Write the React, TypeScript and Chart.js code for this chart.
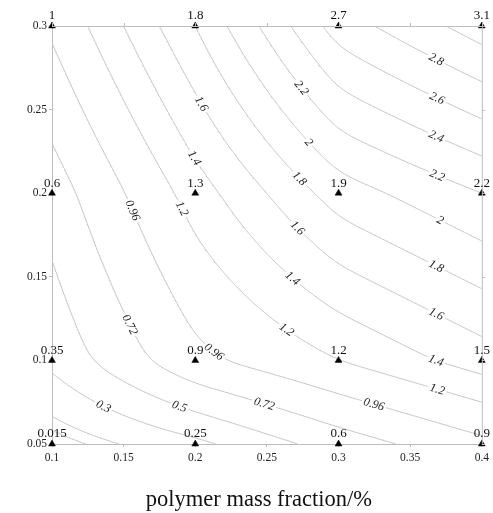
import React, { useEffect, useRef } from "react";
import { Chart, registerables } from "chart.js";

Chart.register(...registerables);

// ---------- data ----------
const xValues = [0.1, 0.2, 0.3, 0.4];
const yValues = [0.05, 0.1, 0.2, 0.3];
const zAtY005 = [0.015, 0.25, 0.6, 0.9];
const zAtY010 = [0.35, 0.9, 1.2, 1.5];
const zAtY020 = [0.6, 1.3, 1.9, 2.2];
const zAtY030 = [1, 1.8, 2.7, 3.1];
const contourLevels = [0.07, 0.125, 0.3, 0.5, 0.72, 0.96, 1.2, 1.4, 1.6, 1.8, 2, 2.2, 2.4, 2.6, 2.8, 3];
const xTicks = [0.1, 0.15, 0.2, 0.25, 0.3, 0.35, 0.4];
const yTicks = [0.05, 0.1, 0.15, 0.2, 0.25, 0.3];
const xTitle = "polymer mass fraction/%";

// ---------- layout (label anchors: level, x where the label sits) ----------
const labelAnchors: [number, number][] = [
  [0.3, 0.1355], [0.5, 0.189],
  [0.72, 0.1543], [0.72, 0.248],
  [0.96, 0.1564], [0.96, 0.2134], [0.96, 0.3248],
  [1.2, 0.191], [1.2, 0.2642], [1.2, 0.3686],
  [1.4, 0.1995], [1.4, 0.2677], [1.4, 0.3686],
  [1.6, 0.2044], [1.6, 0.2712], [1.6, 0.3686],
  [1.8, 0.2726], [1.8, 0.3686],
  [2, 0.2795], [2, 0.3714],
  [2.2, 0.274], [2.2, 0.3686],
  [2.4, 0.3686], [2.6, 0.3686], [2.8, 0.3686],
];

const SERIF = '"Liberation Serif", "Times New Roman", serif';
const LINE_GRAY = "#c4c4c4";
const AXIS_GRAY = "#bdbdbd";

type P = { x: number; y: number };

function seg(arr: number[], v: number) {
  let k = 0;
  while (k < arr.length - 2 && v > arr[k + 1]) k++;
  return { k, t: (v - arr[k]) / (arr[k + 1] - arr[k]) };
}

function buildSurface() {
  const rows = [zAtY005, zAtY010, zAtY020, zAtY030];
  return (x: number, y: number) => {
    const { k: i, t: tx } = seg(xValues, x);
    const { k: j, t: ty } = seg(yValues, y);
    const b = rows[j][i] + (rows[j][i + 1] - rows[j][i]) * tx;
    const t = rows[j + 1][i] + (rows[j + 1][i + 1] - rows[j + 1][i]) * tx;
    return b + (t - b) * ty;
  };
}

function contourChains(level: number, gx: number[], gy: number[], vals: number[][]): P[][] {
  const N = gx.length - 1;
  const Ny = gy.length - 1;
  const pts = new Map<string, P>();
  const adj = new Map<string, string[]>();
  const link = (a: string, b: string) => {
    if (!adj.has(a)) adj.set(a, []);
    if (!adj.has(b)) adj.set(b, []);
    adj.get(a)!.push(b);
    adj.get(b)!.push(a);
  };
  for (let j = 0; j < Ny; j++) {
    for (let i = 0; i < N; i++) {
      const corners = [[i, j], [i + 1, j], [i + 1, j + 1], [i, j + 1]];
      const c = corners.map(([ci, cj]) => vals[cj][ci]);
      const edges: string[] = [];
      for (let e = 0; e < 4; e++) {
        const a = e, b = (e + 1) % 4;
        const va = c[a], vb = c[b];
        if ((va >= level) !== (vb >= level)) {
          const [ia, ja] = corners[a];
          const [ib, jb] = corners[b];
          const key = ja === jb ? `h${Math.min(ia, ib)}_${ja}` : `v${ia}_${Math.min(ja, jb)}`;
          const t = (level - va) / (vb - va);
          pts.set(key, {
            x: gx[ia] + (gx[ib] - gx[ia]) * t,
            y: gy[ja] + (gy[jb] - gy[ja]) * t,
          });
          edges.push(key);
        }
      }
      if (edges.length === 2) link(edges[0], edges[1]);
      else if (edges.length === 4) {
        const center = (c[0] + c[1] + c[2] + c[3]) / 4;
        if ((center >= level) === (c[0] >= level)) {
          link(edges[0], edges[1]);
          link(edges[2], edges[3]);
        } else {
          link(edges[3], edges[0]);
          link(edges[1], edges[2]);
        }
      }
    }
  }
  const used = new Set<string>();
  const keys = [...adj.keys()];
  const starts = keys.filter((k) => adj.get(k)!.length === 1).concat(keys);
  const chains: P[][] = [];
  for (const s of starts) {
    if (used.has(s)) continue;
    const chain = [s];
    used.add(s);
    let cur = s;
    for (;;) {
      const nb = adj.get(cur)!.find((n) => !used.has(n));
      if (!nb) break;
      chain.push(nb);
      used.add(nb);
      cur = nb;
    }
    if (chain.length > 2 && adj.get(cur)!.includes(s)) chain.push(s);
    chains.push(chain.map((k) => pts.get(k)!));
  }
  return chains;
}

// resample a contour by arc length (in pixel-like units) and smooth it with a
// shrinking-window moving average so the ends stay fixed
function smoothChain(ch: P[], sx: number, sy: number, step: number, radius: number, passes: number): P[] {
  if (ch.length < 3) return ch;
  const q = ch.map((p) => ({ x: p.x * sx, y: p.y * sy }));
  const cum = [0];
  for (let i = 1; i < q.length; i++) cum.push(cum[i - 1] + Math.hypot(q[i].x - q[i - 1].x, q[i].y - q[i - 1].y));
  const total = cum[cum.length - 1];
  if (total < step * 3) return ch;
  const n = Math.max(3, Math.round(total / step) + 1);
  let r: { x: number; y: number }[] = [];
  let s = 0;
  for (let k = 0; k < n; k++) {
    const d = (total * k) / (n - 1);
    while (s < q.length - 2 && cum[s + 1] < d) s++;
    const span = cum[s + 1] - cum[s] || 1;
    const t = Math.min(1, Math.max(0, (d - cum[s]) / span));
    r.push({ x: q[s].x + (q[s + 1].x - q[s].x) * t, y: q[s].y + (q[s + 1].y - q[s].y) * t });
  }
  const w = Math.max(1, Math.round(radius / ((total / (n - 1)) || 1)));
  for (let pass = 0; pass < passes; pass++) {
    const out: { x: number; y: number }[] = [];
    for (let k = 0; k < r.length; k++) {
      const h = Math.min(w, k, r.length - 1 - k);
      let ax = 0, ay = 0;
      for (let m = k - h; m <= k + h; m++) {
        ax += r[m].x;
        ay += r[m].y;
      }
      out.push({ x: ax / (2 * h + 1), y: ay / (2 * h + 1) });
    }
    r = out;
  }
  return r.map((p) => ({ x: p.x / sx, y: p.y / sy }));
}

export default function App() {
  const ref = useRef<HTMLCanvasElement>(null);

  useEffect(() => {
    const canvas = ref.current!;
    const f = buildSurface();
    const N = 150;
    const x0 = xValues[0], x1 = xValues[xValues.length - 1];
    const y0 = yValues[0], y1 = yValues[yValues.length - 1];
    const gx = Array.from({ length: N + 1 }, (_, i) => x0 + ((x1 - x0) * i) / N);
    const gy = Array.from({ length: N + 1 }, (_, j) => y0 + ((y1 - y0) * j) / N);
    const vals = gy.map((y) => gx.map((x) => f(x, y)));
    // approximate pixel aspect of the plot (431 px over the x range, 418 px over the y range)
    const sx = 431 / (x1 - x0);
    const sy = 418 / (y1 - y0);

    const levelChains = new Map<number, P[][]>();
    const contourDatasets: any[] = [];
    for (const L of contourLevels) {
      const chains = contourChains(L, gx, gy, vals).map((ch) => smoothChain(ch, sx, sy, 1.5, 12, 3));
      levelChains.set(L, chains);
      for (const ch of chains) {
        contourDatasets.push({
          data: ch,
          showLine: true,
          borderColor: LINE_GRAY,
          borderWidth: 1,
          pointRadius: 0,
          fill: false,
          tension: 0,
          order: 1,
        });
      }
    }

    const rows = [zAtY005, zAtY010, zAtY020, zAtY030];
    const samplePoints: (P & { v: number })[] = [];
    rows.forEach((r, j) => r.forEach((v, i) => samplePoints.push({ x: xValues[i], y: yValues[j], v })));

    const overlay = {
      id: "overlay",
      beforeDatasetDraw(chart: any, args: any) {
        if (args.index !== 0) return;
        const ctx = chart.ctx as CanvasRenderingContext2D;
        const xs = chart.scales.x, ys = chart.scales.y;
        ctx.save();
        ctx.font = `italic 12px ${SERIF}`;
        ctx.textAlign = "center";
        ctx.textBaseline = "middle";
        for (const [L, xa] of labelAnchors) {
          const chains = levelChains.get(L) || [];
          let best: { ch: P[]; k: number; d: number } | null = null;
          for (const ch of chains) {
            for (let k = 0; k < ch.length; k++) {
              const d = Math.abs(ch[k].x - xa);
              if (!best || d < best.d) best = { ch, k, d };
            }
          }
          if (!best) continue;
          const { ch, k } = best;
          const pa = ch[Math.max(0, k - 4)], pb = ch[Math.min(ch.length - 1, k + 4)];
          const ax = xs.getPixelForValue(pa.x), ay = ys.getPixelForValue(pa.y);
          const bx = xs.getPixelForValue(pb.x), by = ys.getPixelForValue(pb.y);
          let ang = Math.atan2(by - ay, bx - ax);
          if (ang > Math.PI / 2) ang -= Math.PI;
          if (ang < -Math.PI / 2) ang += Math.PI;
          const px = xs.getPixelForValue(ch[k].x), py = ys.getPixelForValue(ch[k].y);
          const text = String(L);
          const w = ctx.measureText(text).width;
          ctx.save();
          ctx.translate(px, py);
          ctx.rotate(ang);
          ctx.fillStyle = "#ffffff";
          ctx.fillRect(-w / 2 - 2, -5, w + 4, 10);
          ctx.fillStyle = "#222222";
          ctx.fillText(text, 0, 0.5);
          ctx.restore();
        }
        ctx.restore();
      },
      afterDatasetsDraw(chart: any) {
        const ctx = chart.ctx as CanvasRenderingContext2D;
        const xs = chart.scales.x, ys = chart.scales.y;
        const area = chart.chartArea;
        ctx.save();
        ctx.strokeStyle = AXIS_GRAY;
        ctx.lineWidth = 1;
        ctx.beginPath();
        ctx.moveTo(area.left, area.top + 0.5);
        ctx.lineTo(area.right, area.top + 0.5);
        ctx.moveTo(area.right + 0.5, area.top);
        ctx.lineTo(area.right + 0.5, area.bottom);
        for (const t of xTicks) {
          const px = Math.round(xs.getPixelForValue(t)) + 0.5;
          ctx.moveTo(px, area.top);
          ctx.lineTo(px, area.top - 3);
        }
        for (const t of yTicks) {
          const py = Math.round(ys.getPixelForValue(t)) + 0.5;
          ctx.moveTo(area.right, py);
          ctx.lineTo(area.right + 3, py);
        }
        ctx.stroke();
        ctx.font = `13px ${SERIF}`;
        ctx.textAlign = "center";
        ctx.textBaseline = "middle";
        ctx.fillStyle = "#111111";
        for (const p of samplePoints) {
          const px = xs.getPixelForValue(p.x), py = ys.getPixelForValue(p.y);
          ctx.fillText(String(p.v), px, py - 10);
        }
        ctx.font = `22.5px ${SERIF}`;
        ctx.fillStyle = "#111111";
        ctx.fillText(xTitle, (area.left + area.right) / 2 - 8, 500);
        ctx.restore();
      },
    };

    const tickFont = { family: SERIF, size: 11.5 };
    const chart = new Chart(canvas, {
      type: "scatter",
      data: {
        datasets: [
          {
            data: samplePoints.map((p) => ({ x: p.x, y: p.y })),
            pointStyle: "triangle",
            pointRadius: 4,
            backgroundColor: "#000000",
            borderColor: "#000000",
            borderWidth: 0.5,
            clip: false,
            order: 0,
          } as any,
          ...contourDatasets,
        ],
      },
      options: {
        animation: false,
        responsive: false,
        events: [],
        layout: { padding: { top: 26, right: 10, left: 0, bottom: 0 } },
        plugins: { legend: { display: false }, tooltip: { enabled: false } },
        scales: {
          x: {
            type: "linear",
            min: x0,
            max: x1,
            afterBuildTicks: (s: any) => {
              s.ticks = xTicks.map((v) => ({ value: v }));
            },
            afterFit: (s: any) => {
              s.height = 69;
            },
            ticks: {
              font: tickFont,
              color: "#222222",
              padding: 4,
              autoSkip: false,
              maxRotation: 0,
              callback: (v: any) => String(v),
            },
            grid: { display: true, drawOnChartArea: false, drawTicks: true, tickLength: 3, color: AXIS_GRAY },
            border: { display: true, color: AXIS_GRAY },
          },
          y: {
            type: "linear",
            min: y0,
            max: y1,
            afterBuildTicks: (s: any) => {
              s.ticks = yTicks.map((v) => ({ value: v }));
            },
            afterFit: (s: any) => {
              s.width = 52;
            },
            ticks: {
              font: tickFont,
              color: "#222222",
              padding: 2,
              autoSkip: false,
              callback: (v: any) => String(v),
            },
            grid: { display: true, drawOnChartArea: false, drawTicks: true, tickLength: 3, color: AXIS_GRAY },
            border: { display: true, color: AXIS_GRAY },
          },
        },
      } as any,
      plugins: [overlay],
    });
    return () => chart.destroy();
  }, []);

  return (
    <div style={{ position: "absolute", left: 0, top: 0, width: 493, height: 513, background: "#fff" }}>
      <canvas ref={ref} width={493} height={513} style={{ display: "block", width: 493, height: 513 }} />
    </div>
  );
}
